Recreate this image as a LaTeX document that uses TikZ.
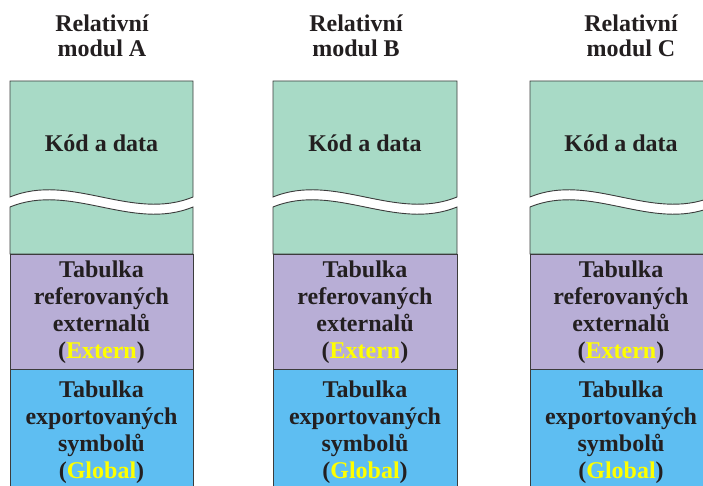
\documentclass[tikz,border=0pt]{standalone}
\usepackage{fontspec}
\setmainfont{Liberation Serif}
\begin{document}
\definecolor{codegreen}{HTML}{A8DAC6}
\definecolor{extpurple}{HTML}{B8AED6}
\definecolor{globblue}{HTML}{5EBEF2}
\definecolor{inkdark}{HTML}{231F20}
\definecolor{edgegray}{HTML}{3C3C3C}
\definecolor{keyyellow}{HTML}{FFFF00}
\begin{tikzpicture}[x=1pt,y=-1pt,
  section/.style={draw=edgegray,line width=0.9pt},
  label/.style={inner sep=0pt,anchor=base,align=center,text=inkdark,
    font=\bfseries\fontsize{24}{27}\selectfont},
  heading/.style={label,font=\bfseries\fontsize{24}{25}\selectfont}]
\useasboundingbox (0,0) rectangle (703,486);
\clip (0,0) rectangle (703,486);

% module columns: left and right edges
\foreach \L/\R in {10/193, 273/457, 530/712}{
  \pgfmathsetmacro{\W}{\R-\L}
  % code and data area, broken by a wavy gap
  \path[section,fill=codegreen]
    (\L,197) -- (\L,81) -- (\R,81) -- (\R,197)
    .. controls ({\L+2*\W/3},222) and ({\L+\W/3},172) .. (\L,197) -- cycle;
  \path[section,fill=codegreen]
    (\L,207) .. controls ({\L+\W/3},182) and ({\L+2*\W/3},232) .. (\R,207)
    -- (\R,254) -- (\L,254) -- cycle;
  % tables
  \path[section,fill=extpurple] (\L,254) rectangle (\R,369);
  \path[section,fill=globblue] (\L,369) rectangle (\R,500);
}

% headings (anchored at the baseline of the last line)
\node[heading] (titleA) at (102,57) {Relativní\\modul A};
\node[heading] (titleB) at (356,57) {Relativní\\modul B};
\node[heading] (titleC) at (631,57) {Relativní\\modul C};

% section texts
\foreach \n/\M in {A/101.5, B/365, C/621}{
  \node[label] (code\n) at (\M,152) {Kód a data};
  \node[label] (ext\n) at (\M,358)
    {Tabulka\\referovaných\\externalů\\(\textcolor{keyyellow}{Extern})};
  \node[label] (glob\n) at (\M,478)
    {Tabulka\\exportovaných\\symbolů\\(\textcolor{keyyellow}{Global})};
}
\end{tikzpicture}
\end{document}
